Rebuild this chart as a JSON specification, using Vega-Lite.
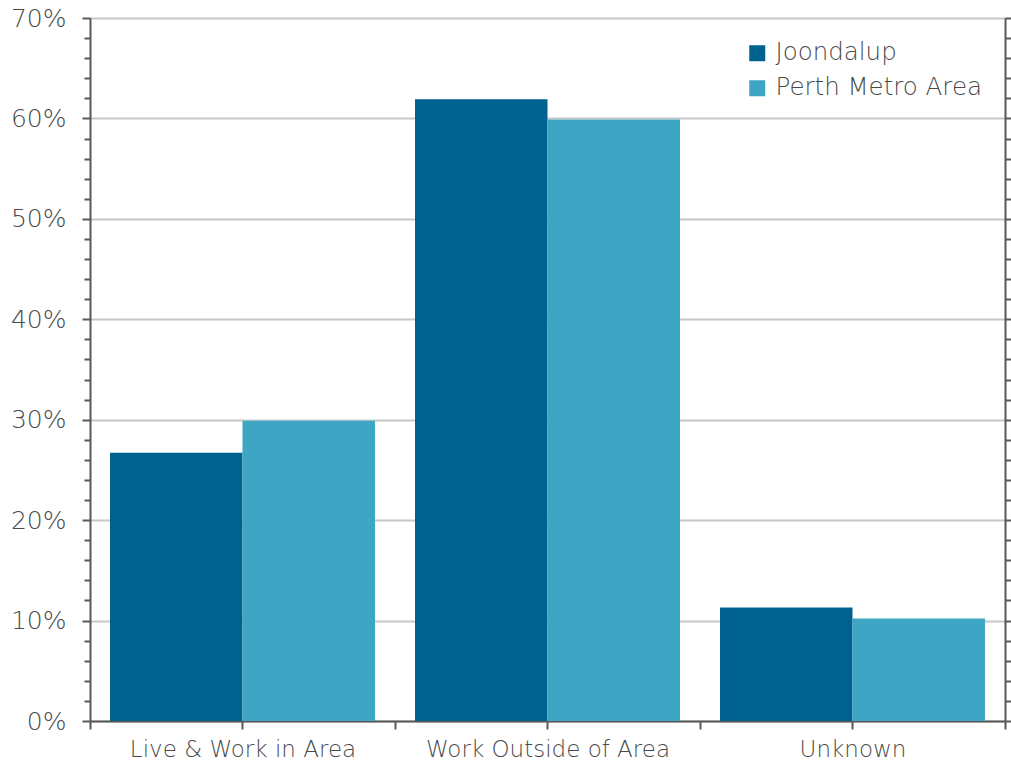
{
  "$schema": "https://vega.github.io/schema/vega-lite/v6.json",
  "width": 915,
  "height": 703,
  "autosize": {"type": "none"},
  "padding": {"left": 90, "top": 18, "right": 6, "bottom": 42},
  "background": "white",
  "config": {
    "font": "DejaVu Sans",
    "view": {"stroke": null},
    "axis": {"labelColor": "#4a4a4a", "labelFontWeight": 200, "domainColor": "#595959", "tickColor": "#595959", "domainWidth": 2, "tickWidth": 2, "gridColor": "#c8c8c8", "gridWidth": 2, "labelLimit": 0},
    "legend": {"labelLimit": 0, "labelFontWeight": 200}
  },
  "data": {
    "values": [
      {"category": "Live & Work in Area", "series": "Joondalup", "value": 26.7},
      {"category": "Live & Work in Area", "series": "Perth Metro Area", "value": 29.9},
      {"category": "Work Outside of Area", "series": "Joondalup", "value": 61.9},
      {"category": "Work Outside of Area", "series": "Perth Metro Area", "value": 59.9},
      {"category": "Unknown", "series": "Joondalup", "value": 11.3},
      {"category": "Unknown", "series": "Perth Metro Area", "value": 10.2}
    ]
  },
  "layer": [
    {
      "mark": {"type": "bar"},
      "encoding": {
        "x": {
          "field": "category", "type": "nominal", "sort": null,
          "scale": {"paddingInner": 0, "paddingOuter": 0},
          "axis": {"title": null, "orient": "bottom", "labelAngle": 0, "labelFontSize": 23, "labelLimit": 0, "tickBand": "extent", "tickSize": 8, "labelPadding": 9, "grid": false}
        },
        "xOffset": {"field": "series", "type": "nominal", "sort": null, "scale": {"paddingInner": 0, "paddingOuter": 0.151}},
        "y": {
          "field": "value", "type": "quantitative",
          "scale": {"domain": [0, 70], "nice": false},
          "axis": {
            "title": null,
            "orient": "left",
            "values": [0,2,4,6,8,10,12,14,16,18,20,22,24,26,28,30,32,34,36,38,40,42,44,46,48,50,52,54,56,58,60,62,64,66,68,70],
            "labelExpr": "datum.value % 10 === 0 ? datum.value + '%' : ''",
            "labelFontSize": 25,
            "labelPadding": 16,
            "grid": true,
            "gridOpacity": {"condition": {"test": "datum.value % 10 === 0", "value": 1}, "value": 0},
            "tickSize": {"condition": {"test": "datum.value % 10 === 0", "value": 8}, "value": 6},
            "labelOverlap": false
          }
        },
        "color": {
          "field": "series", "type": "nominal", "sort": null,
          "scale": {"range": ["#00628f", "#3ea6c4"]},
          "legend": {"title": null, "orient": "none", "legendX": 655, "legendY": 23, "symbolType": "square", "symbolSize": 256, "symbolStrokeWidth": 0, "labelFontSize": 24.5, "labelLimit": 0, "labelColor": "#4a4a4a", "rowPadding": 10, "labelOffset": 6}
        }
      }
    },
    {
      "mark": {"type": "bar", "opacity": 0},
      "encoding": {
        "x": {
          "field": "category", "type": "nominal", "sort": null,
          "axis": {"title": null, "orient": "bottom", "labels": false, "domain": false, "tickBand": "center", "tickSize": 8, "grid": false}
        },
        "y": {
          "field": "value", "type": "quantitative",
          "axis": {
            "title": null, "orient": "right", "labels": false, "grid": false, "tickSize": 6,
            "values": [0,2,4,6,8,10,12,14,16,18,20,22,24,26,28,30,32,34,36,38,40,42,44,46,48,50,52,54,56,58,60,62,64,66,68,70]
          }
        }
      }
    }
  ],
  "resolve": {"axis": {"x": "independent", "y": "independent"}}
}
